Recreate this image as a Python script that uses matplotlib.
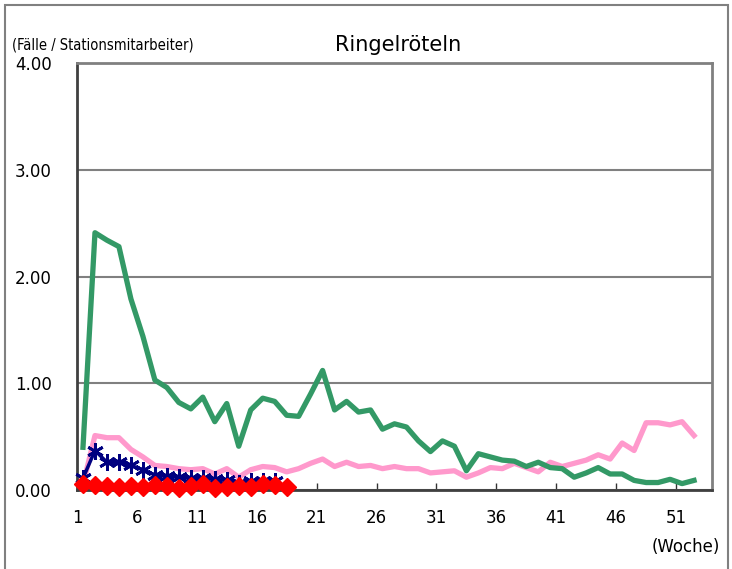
import matplotlib
matplotlib.use("Agg")
import matplotlib.pyplot as plt
from matplotlib.patches import Rectangle
import numpy as np

weeks = list(range(1, 53))

green = [0.40, 2.41, 2.34, 2.28, 1.79, 1.44, 1.03, 0.96, 0.82, 0.76,
         0.87, 0.64, 0.81, 0.41, 0.75, 0.86, 0.83, 0.70, 0.69, 0.90,
         1.12, 0.75, 0.83, 0.73, 0.75, 0.57, 0.62, 0.59, 0.46, 0.36,
         0.46, 0.41, 0.18, 0.34, 0.31, 0.28, 0.27, 0.22, 0.26, 0.21,
         0.20, 0.12, 0.16, 0.21, 0.15, 0.15, 0.09, 0.07, 0.07, 0.10,
         0.06, 0.09]

pink = [0.05, 0.51, 0.49, 0.49, 0.38, 0.31, 0.23, 0.22, 0.20, 0.19,
        0.20, 0.15, 0.20, 0.12, 0.19, 0.22, 0.21, 0.17, 0.20, 0.25,
        0.29, 0.22, 0.26, 0.22, 0.23, 0.20, 0.22, 0.20, 0.20, 0.16,
        0.17, 0.18, 0.12, 0.16, 0.21, 0.20, 0.25, 0.21, 0.17, 0.26,
        0.22, 0.25, 0.28, 0.33, 0.29, 0.44, 0.37, 0.63, 0.63, 0.61,
        0.64, 0.51]

blue = [0.11, 0.37, 0.26, 0.26, 0.23, 0.19, 0.14, 0.13, 0.12, 0.11,
        0.11, 0.10, 0.09, 0.07, 0.08, 0.08, 0.08]

red = [0.06, 0.05, 0.04, 0.03, 0.04, 0.03, 0.05, 0.04, 0.02, 0.04,
       0.06, 0.02, 0.03, 0.04, 0.03, 0.06, 0.05, 0.03]

xtick_labels = [1, 6, 11, 16, 21, 26, 31, 36, 41, 46, 51]
ytick_values = [0.0, 1.0, 2.0, 3.0, 4.0]

fig = plt.figure(figsize=(7.32, 5.69), dpi=100)
ax = fig.add_axes([77/732, 1-490/569, (712-77)/732, (490-63)/569])

ax.plot(weeks, green, color="#339966", lw=3.8, solid_joinstyle="round", zorder=3)
ax.plot(weeks, pink, color="#ff99cc", lw=3.8, solid_joinstyle="round", zorder=2)
ax.plot(weeks[:len(blue)], blue, color="#000080", lw=2.5, marker=(6, 2, 0),
        ms=12, mew=2.0, zorder=4, clip_on=False)
ax.plot(weeks[:len(red)], red, color="#ff0000", lw=2.5, marker="D",
        ms=9, zorder=5, clip_on=False)

ax.set_xlim(0.5, 53.5)
ax.set_ylim(0, 4)
ax.set_xticks([v - 0.5 for v in xtick_labels])
ax.set_xticklabels([str(v) for v in xtick_labels], fontsize=12)
ax.set_yticks(ytick_values)
ax.set_yticklabels([f"{v:.2f}" for v in ytick_values], fontsize=12)
ax.tick_params(axis="x", direction="in", length=5, width=1, pad=14, color="#333333")
ax.tick_params(axis="y", direction="out", length=0, pad=18)
ax.grid(axis="y", color="#808080", lw=1.5)
ax.set_axisbelow(True)
for s in ax.spines.values():
    s.set_color("#808080")
    s.set_linewidth(2)
ax.spines["left"].set_color("#404040")
ax.spines["bottom"].set_color("#404040")

fig.text(398/732, 1-45/569, "Ringelröteln", fontsize=15, ha="center", va="center")
fig.text(12/732, 1-45/569, "(Fälle / Stationsmitarbeiter)", fontsize=10.5,
         family="DejaVu Sans", fontstretch="condensed", ha="left", va="center")
fig.text(720/732, 1-547/569, "(Woche)", fontsize=12, ha="right", va="center")

fig.patches.append(Rectangle((5/732, -0.01), 723/732, 1 - 5/569 + 0.01,
                             transform=fig.transFigure, fill=False,
                             edgecolor="#808080", lw=1.5))

fig.savefig("out.png", dpi=100)
